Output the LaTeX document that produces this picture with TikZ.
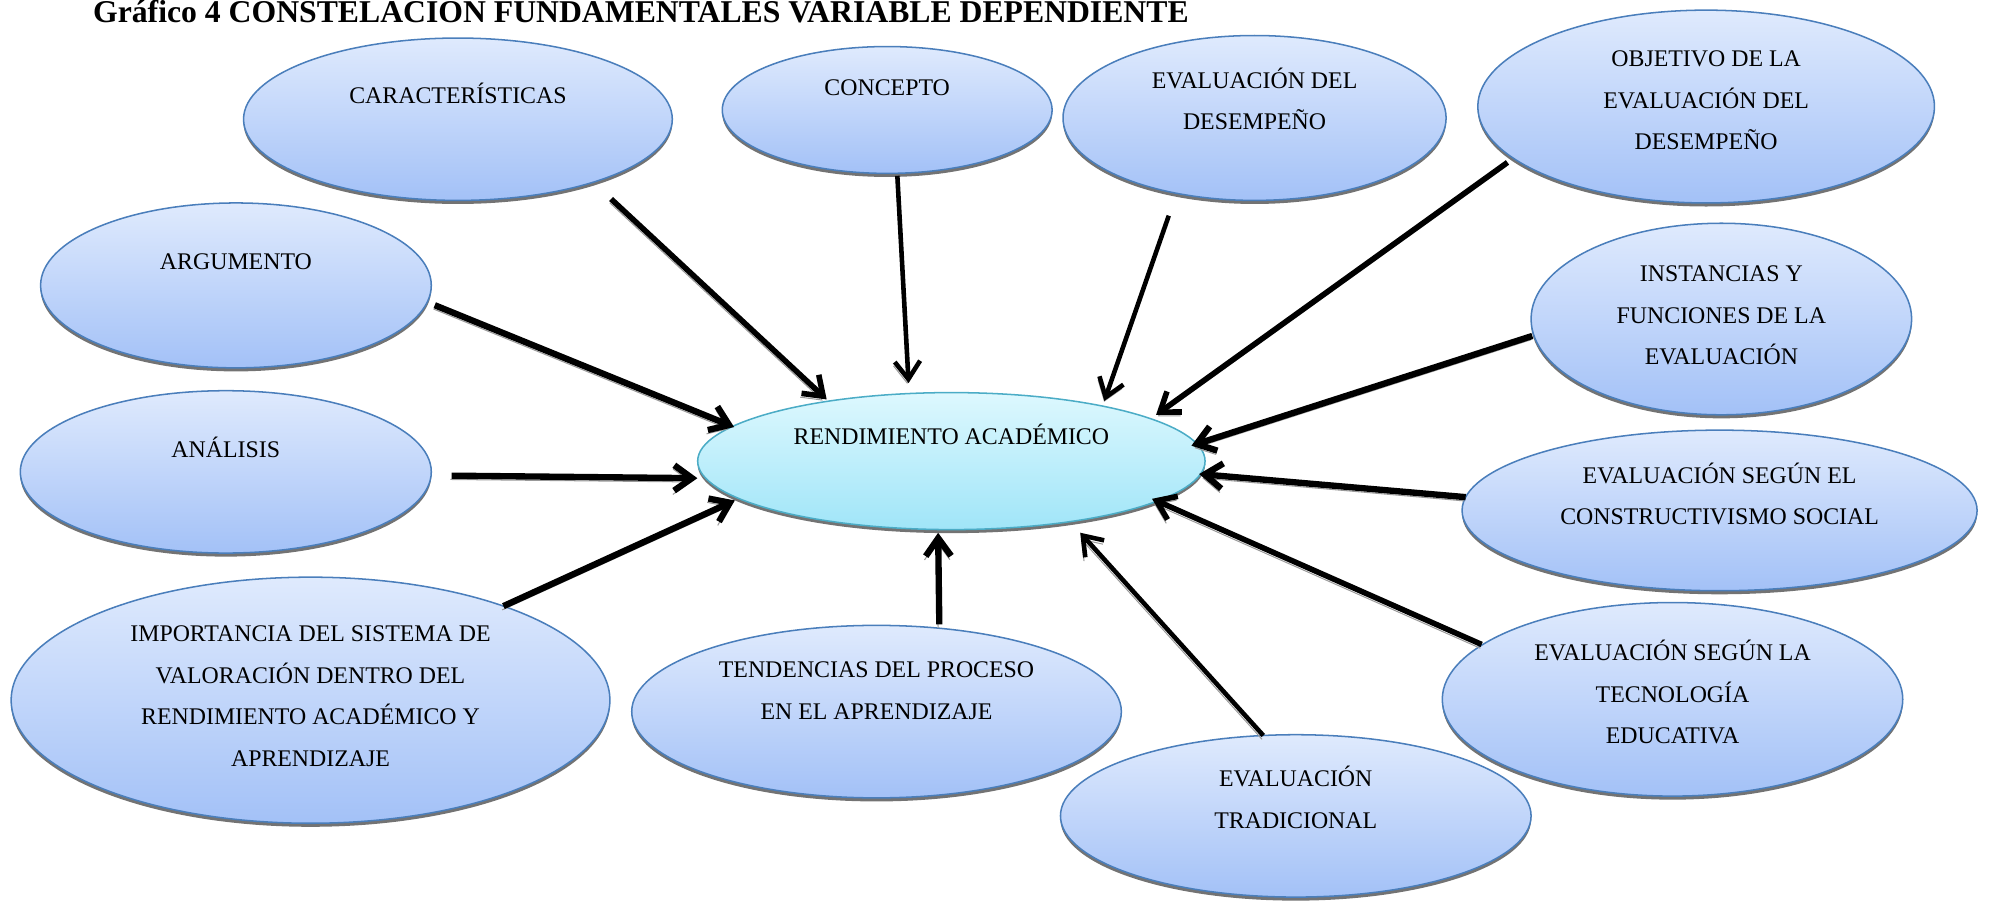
\documentclass[tikz,border=0pt]{standalone}
\usepackage{fontspec}
\setmainfont{Liberation Serif}
\usetikzlibrary{shapes.geometric,arrows.meta,shadows}
\definecolor{bubtop}{HTML}{DFEAFD}
\definecolor{bubbot}{HTML}{A3C1F7}
\definecolor{bubline}{HTML}{4A7EBB}
\definecolor{centop}{HTML}{DDF8FE}
\definecolor{cenbot}{HTML}{A0E5F8}
\definecolor{cenline}{HTML}{4BACC6}
\newcommand{\mlines}[1]{\begin{tabular}[t]{@{}c@{}}#1\end{tabular}}
\begin{document}
\begin{tikzpicture}[x=0.5pt,y=-0.5pt,
  bub/.style={ellipse, draw=bubline, line width=0.6pt, top color=bubtop, bottom color=bubbot,
    inner sep=0pt, outer sep=0pt,
    drop shadow={shadow xshift=0pt, shadow yshift=-1.4pt, fill=black!55, opacity=1}},
  cen/.style={bub, draw=cenline, top color=centop, bottom color=cenbot},
  txt/.style={anchor=base, inner sep=0pt, font=\fontsize{9.4}{16.4}\selectfont},
  arr/.style={line width=2.2pt, -{Straight Barb[length=7pt,width=10pt]},
    preaction={draw=black!40, transform canvas={xshift=-0.5pt,yshift=-1.5pt}}},
  arrthick/.style={arr, line width=2.5pt},
  arrthin/.style={arr, line width=1.8pt}]
\useasboundingbox (0,0) rectangle (1568,710.3);

% title
\node[anchor=base west, inner sep=0pt, font=\fontsize{12.5}{15}\selectfont\bfseries] (title) at (73,17.5)
  {Gráfico 4 CONSTELACIÓN FUNDAMENTALES VARIABLE DEPENDIENTE};

% ellipses
\node[bub, minimum width=169pt, minimum height=64pt] (car) at (361,94) {};
\node[bub, minimum width=130pt, minimum height=50pt] (con) at (699.4,86.7) {};
\node[bub, minimum width=151pt, minimum height=65pt] (ed) at (989,93) {};
\node[bub, minimum width=180pt, minimum height=76pt] (obj) at (1345,84) {};
\node[bub, minimum width=154pt, minimum height=65pt] (arg) at (186,225) {};
\node[bub, minimum width=150pt, minimum height=75.5pt] (ins) at (1357,251.5) {};
\node[bub, minimum width=162pt, minimum height=64pt] (ana) at (178,372) {};
\node[cen, minimum width=200pt, minimum height=54pt] (ren) at (750,363.5) {};
\node[bub, minimum width=203pt, minimum height=63.3pt] (cons) at (1355.6,402.4) {};
\node[bub, minimum width=236pt, minimum height=97pt] (imp) at (244.8,552) {};
\node[bub, minimum width=193pt, minimum height=68pt] (ten) at (691,561) {};
\node[bub, minimum width=181.5pt, minimum height=76.3pt] (tec) at (1318.5,551.3) {};
\node[bub, minimum width=185.5pt, minimum height=64pt] (tra) at (1021.5,643.2) {};

% texts
\node[txt] (car-t) at (361,81.5) {CARACTERÍSTICAS};
\node[txt] (con-t) at (699.4,75.5) {CONCEPTO};
\node[txt] (ed-t) at (989,69.6) {\mlines{EVALUACIÓN DEL\\DESEMPEÑO}};
\node[txt] (obj-t) at (1345,52.6) {\mlines{OBJETIVO DE LA\\EVALUACIÓN DEL\\DESEMPEÑO}};
\node[txt] (arg-t) at (186,212.3) {ARGUMENTO};
\node[txt] (ins-t) at (1357,222) {\mlines{INSTANCIAS Y\\FUNCIONES DE LA\\EVALUACIÓN}};
\node[txt] (ana-t) at (178,360.3) {ANÁLISIS};
\node[txt] (ren-t) at (750,350.8) {RENDIMIENTO ACADÉMICO};
\node[txt] (cons-t) at (1355.6,381) {\mlines{EVALUACIÓN SEGÚN EL\\CONSTRUCTIVISMO SOCIAL}};
\node[txt] (imp-t) at (244.8,505.8) {\mlines{IMPORTANCIA DEL SISTEMA DE\\VALORACIÓN DENTRO DEL\\RENDIMIENTO ACADÉMICO Y\\APRENDIZAJE}};
\node[txt] (ten-t) at (691,534.3) {\mlines{TENDENCIAS DEL PROCESO\\EN EL APRENDIZAJE}};
\node[txt] (tec-t) at (1318.5,520.8) {\mlines{EVALUACIÓN SEGÚN LA\\TECNOLOGÍA\\EDUCATIVA}};
\node[txt] (tra-t) at (1021.5,620) {\mlines{EVALUACIÓN\\TRADICIONAL}};

% arrows
\draw[arr, shorten <=9.7pt, shorten >=1pt] (car.-25.06) -- (ren.154.47);
\draw[arrthin, shorten <=1pt, shorten >=4.15pt] (con.-81.12) -- (ren.122.28);
\draw[arrthin, shorten <=9.35pt, shorten >=2.15pt] (ed.-136.2) -- (ren.20.14);
\draw[arr, shorten <=2.85pt, shorten >=2.6pt] (obj.-165.27) -- (ren.12.64);
\draw[arrthick, shorten <=3.2pt, shorten >=-0.65pt] (arg.-5.56) -- (ren.171.14);
\draw[arrthick, shorten <=0.65pt, shorten >=-2.3pt] (ins.-175.33) -- (ren.4.65);
\draw[arrthick, shorten <=8.1pt, shorten >=3.3pt] (ana.-1.06) -- (ren.-176.63);
\draw[arrthick, shorten >=-0.5pt] (cons.177.62) -- (ren.-3.24);
\draw[arrthick, shorten >=1.8pt] (imp.26.09) -- (ren.-170.28);
\draw[arrthick, shorten <=1.55pt, shorten >=1.3pt] (ten.53.93) -- (ren.-101.53);
\draw[arr, shorten <=0.3pt, shorten >=-2.25pt] (tec.164.99) -- (ren.-11.41);
\draw[arrthin, shorten >=5.9pt] (tra.112.25) -- (ren.-27.02);
\end{tikzpicture}
\end{document}
